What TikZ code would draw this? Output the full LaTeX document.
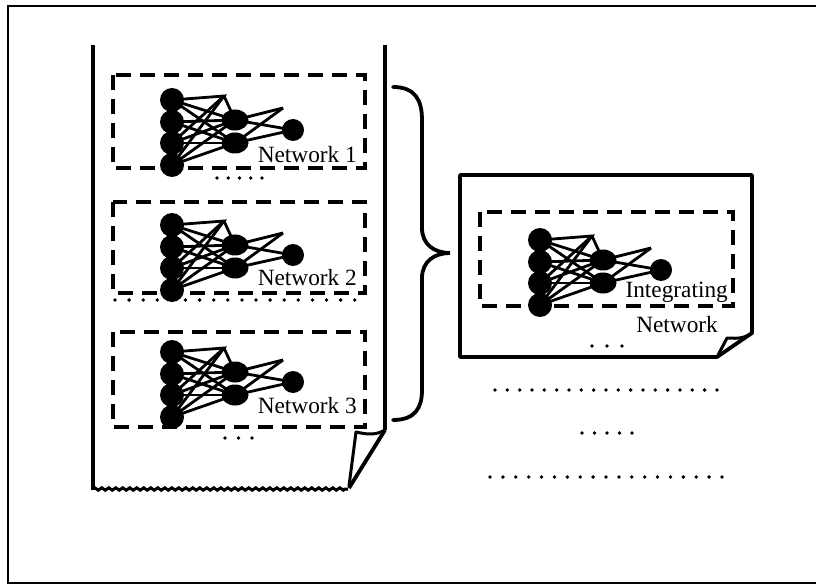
\documentclass[tikz,border=0pt]{standalone}
\usepackage{fontspec}
\setmainfont{Liberation Serif}
\usetikzlibrary{decorations.pathmorphing,shapes.geometric}
\tikzset{
  neur/.style={circle,fill=black,inner sep=0pt,minimum size=24pt},
  hid/.style={ellipse,fill=black,inner sep=0pt,minimum width=27pt,minimum height=21pt},
  outn/.style={circle,fill=black,inner sep=0pt,minimum size=22pt},
  link/.style={line width=2.8pt},
  dbox/.style={line width=3.8pt,dash pattern=on 15pt off 9pt},
  docline/.style={line width=3.8pt,line join=round},
  lbl/.style={font=\fontsize{23.3}{27}\selectfont,inner sep=0pt,anchor=base east},
  dot/.style={circle,fill=black,inner sep=0pt,minimum size=3.8pt}
}
\newcommand{\neticon}[3]{%
\begin{scope}[shift={(#1,#2)}]
  \coordinate (#3t) at (224,96);
  \coordinate (#3a) at (283,108);
  \draw[link] (172,100) -- (#3t) -- (172,165);
  \draw[link] (#3t) -- (235,120);
  \draw[link] (#3t) -- (172,143);
  \draw[link] (#3a) -- (235,120);
  \draw[link] (#3a) -- (235,143);
  \foreach \yi in {100,122,143,165}{
    \draw[link] (172,\yi) -- (235,120);
    \draw[link] (172,\yi) -- (235,143);
  }
  \draw[link] (235,120) -- (293,130);
  \draw[link] (235,143) -- (293,130);
  \node[neur] (#3i1) at (172,100) {};
  \node[neur] (#3i2) at (172,122) {};
  \node[neur] (#3i3) at (172,143) {};
  \node[neur] (#3i4) at (172,165) {};
  \node[hid] (#3h1) at (235,120) {};
  \node[hid] (#3h2) at (235,143) {};
  \node[outn] (#3o) at (293,130) {};
\end{scope}}
\begin{document}
\begin{tikzpicture}[x=1pt,y=-1pt]
\useasboundingbox (0,0) rectangle (816,585);
% outer frame
\draw[line width=2.5pt] (818,6) -- (8,6) -- (8,583) -- (818,583);

% left document
\draw[docline] (93,45) -- (93,490);
\draw[docline] (385,45) -- (385,430);
\draw[line width=3pt,decorate,decoration={zigzag,segment length=7pt,amplitude=1.2pt}] (93,489) -- (348,489);
\draw[docline] (385,430) -- (349,488);
\draw[line width=3pt,line join=round] (385,430) .. controls (375,436) and (365,434) .. (356,432) -- (349,486);

% dashed boxes
\draw[dbox] (113,75) rectangle (365,168);
\draw[dbox] (113,202) rectangle (365,293);
\draw[dbox] (113,332) rectangle (365,427);

\neticon{0}{0}{A}
\neticon{0}{125}{B}
\neticon{0}{252}{C}

\node[lbl] (t1) at (357,163) {Network 1};
\node[lbl] (t2) at (357,285) {Network 2};
\node[lbl] (t3) at (357,413) {Network 3};

% dots left
\foreach \i in {0,...,4}{\node[dot] at (217+\i*11.25,178) {};}
\foreach \i in {0,...,17}{\node[dot] at (115+\i*14.1,300) {};}
\foreach \i in {0,...,2}{\node[dot] at (225+\i*13.5,438) {};}

% brace
\draw[line width=3.8pt,line cap=round] (393,87) .. controls (415,87) and (422,100) .. (422,120) -- (422,228)
  .. controls (422,245) and (435,253) .. (450,253)
  .. controls (435,253) and (422,261) .. (422,278) -- (422,390)
  .. controls (422,408) and (415,420) .. (393,420);

% right document
\draw[docline] (752,333) -- (752,175) -- (460,175) -- (460,357) -- (717,357) -- cycle;
\draw[line width=3pt,line join=round] (752,333) .. controls (742,340) and (733,338) .. (727,338) -- (717,357);
\draw[dbox] (480,212) rectangle (733,306);
\neticon{368}{140}{D}
\node[lbl] (t4) at (728,298) {Integrating};
\node[lbl] (t5) at (718,332) {Network};

% dots right
\foreach \i in {0,...,2}{\node[dot] at (592+\i*15,346) {};}
\foreach \i in {0,...,18}{\node[dot] at (495+\i*12.33,390) {};}
\foreach \i in {0,...,4}{\node[dot] at (582+\i*12.5,433) {};}
\foreach \i in {0,...,18}{\node[dot] at (490+\i*12.89,477) {};}
\end{tikzpicture}
\end{document}
